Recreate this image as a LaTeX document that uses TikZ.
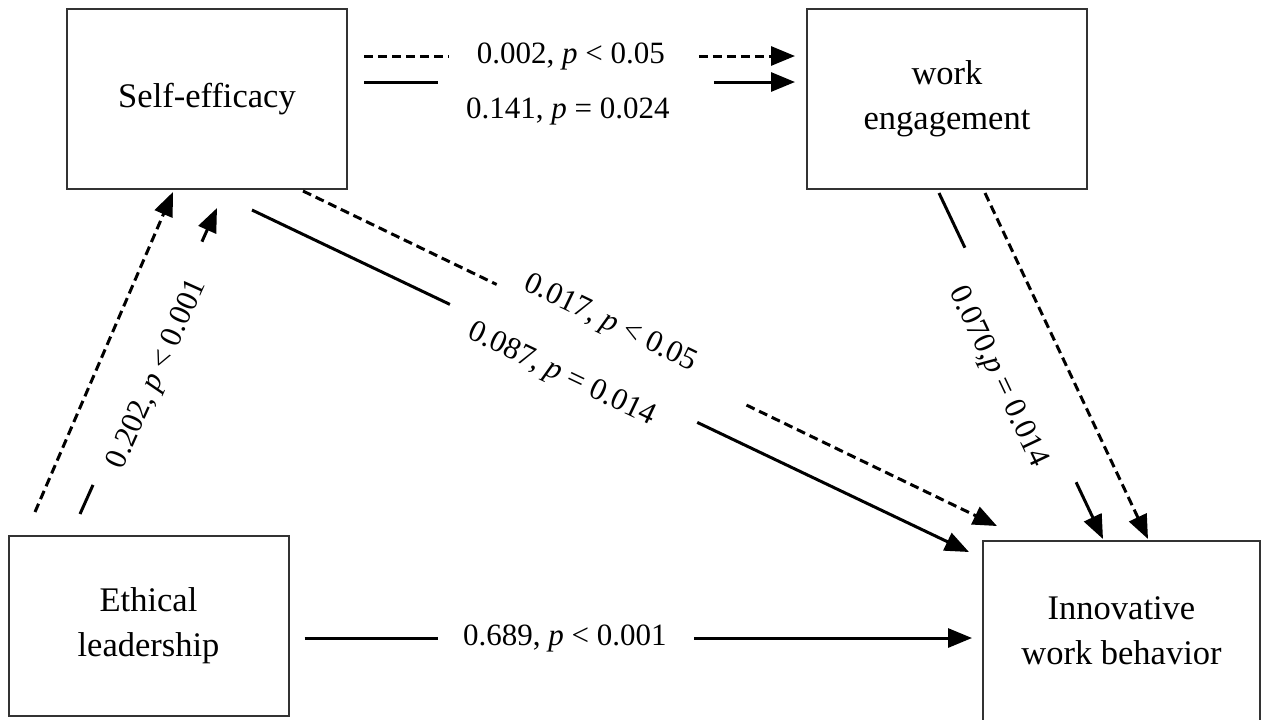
\documentclass[tikz,border=0pt]{standalone}
\usepackage{fontspec}
\setmainfont{Liberation Serif}
\usetikzlibrary{positioning, arrows.meta, calc}

\begin{document}
\begin{tikzpicture}[
  x=0.5pt, y=-0.5pt,
  varbox/.style={rectangle, draw=black!80, line width=1pt, minimum width=140pt, minimum height=90pt, align=center, font=\fontsize{17.25}{22.5}\selectfont},
  lbl/.style={font=\fontsize{15.5}{18}\selectfont, inner sep=0pt},
  solidline/.style={draw=black, line width=1.5pt},
  dashline/.style={solidline, dash pattern=on 4.5pt off 2.5pt},
  arrowtip/.style={-{Triangle[length=12pt, width=9.5pt]}}
]
\useasboundingbox (0,0) rectangle (1263,719);

\node[varbox] (se) at (207,99) {Self-efficacy};
\node[varbox, right=229pt of se] (we) {work\\engagement};
\node[varbox] (el) at (148.5,626) {Ethical\\leadership};
\node[varbox, minimum width=138.5pt] (iwb) at (1121.5,631) {Innovative\\work behavior};

% self-efficacy -> work engagement
\coordinate (d1a) at ($(se.east)+(16,-43)$);
\coordinate (d1b) at ($(we.west)+(-11,-43)$);
\draw[dashline] (d1a) -- ($(d1a)!0.197!(d1b)$);
\draw[dashline, arrowtip] ($(d1a)!0.777!(d1b)$) -- (d1b);
\path (d1a) -- (d1b) node[lbl, pos=0.48] {0.002, \textit{p} < 0.05};

\coordinate (s1a) at ($(se.east)+(16,-17)$);
\coordinate (s1b) at ($(we.west)+(-11,-17)$);
\draw[solidline] (s1a) -- ($(s1a)!0.172!(s1b)$);
\draw[solidline, arrowtip] ($(s1a)!0.812!(s1b)$) -- (s1b);
\path (s1a) -- (s1b) node[lbl, pos=0.473, below, inner sep=7.7pt] {0.141, \textit{p} = 0.024};

% ethical leadership -> self-efficacy
\coordinate (d2a) at ($(el.north)+(-113.5,-23)$);
\coordinate (d2b) at ($(se.south)+(-34,2)$);
\draw[dashline, arrowtip] (d2a) -- (d2b);

\coordinate (s2a) at ($(el.north)+(-68.5,-21)$);
\coordinate (s2b) at ($(se.south)+(10,18)$);
\draw[solidline] (s2a) -- ($(s2a)!0.095!(s2b)$);
\draw[solidline, arrowtip] ($(s2a)!0.89!(s2b)$) -- (s2b);
\path (s2a) -- (s2b) node[lbl, pos=0.475, sloped, below] {0.202, \textit{p} < 0.001};

% self-efficacy -> innovative work behavior
\coordinate (s3a) at ($(se.south)+(45,20)$);
\coordinate (s3b) at ($(iwb.north west)+(-13,12)$);
\draw[solidline] (s3a) -- ($(s3a)!0.276!(s3b)$);
\draw[solidline, arrowtip] ($(s3a)!0.621!(s3b)$) -- (s3b);
\path (s3a) -- (s3b) node[lbl, pos=0.441, sloped, below, inner sep=1pt] {0.087, \textit{p} = 0.014};

\coordinate (d3a) at ($(se.south)+(96,1)$);
\coordinate (d3b) at ($(iwb.north west)+(15,-14)$);
\draw[dashline] (d3a) -- ($(d3a)!0.279!(d3b)$);
\draw[dashline, arrowtip] ($(d3a)!0.639!(d3b)$) -- (d3b);
\path (d3a) -- (d3b) node[lbl, pos=0.434, sloped, above] {0.017, \textit{p} < 0.05};

% work engagement -> innovative work behavior
\coordinate (s4a) at ($(we.south)+(-8,3)$);
\coordinate (s4b) at ($(iwb.north)+(-18.5,-1)$);
\draw[solidline] (s4a) -- ($(s4a)!0.158!(s4b)$);
\draw[solidline, arrowtip] ($(s4a)!0.836!(s4b)$) -- (s4b);
\path (s4a) -- (s4b) node[lbl, pos=0.5, sloped, below, inner sep=6pt] {0.070,\textit{p} = 0.014};

\coordinate (d4a) at ($(we.south)+(38,3)$);
\coordinate (d4b) at ($(iwb.north)+(26.5,-1)$);
\draw[dashline, arrowtip] (d4a) -- (d4b);

% ethical leadership -> innovative work behavior
\coordinate (s5a) at ($(el.east)+(15,12)$);
\coordinate (s5b) at ($(iwb.west)+(-10,7)$);
\draw[solidline] (s5a) -- ($(s5a)!0.2!(s5b)$);
\draw[solidline, arrowtip] ($(s5a)!0.584!(s5b)$) -- (s5b);
\path (s5a) -- (s5b) node[lbl, pos=0.39] {0.689, \textit{p} < 0.001};

\end{tikzpicture}
\end{document}
